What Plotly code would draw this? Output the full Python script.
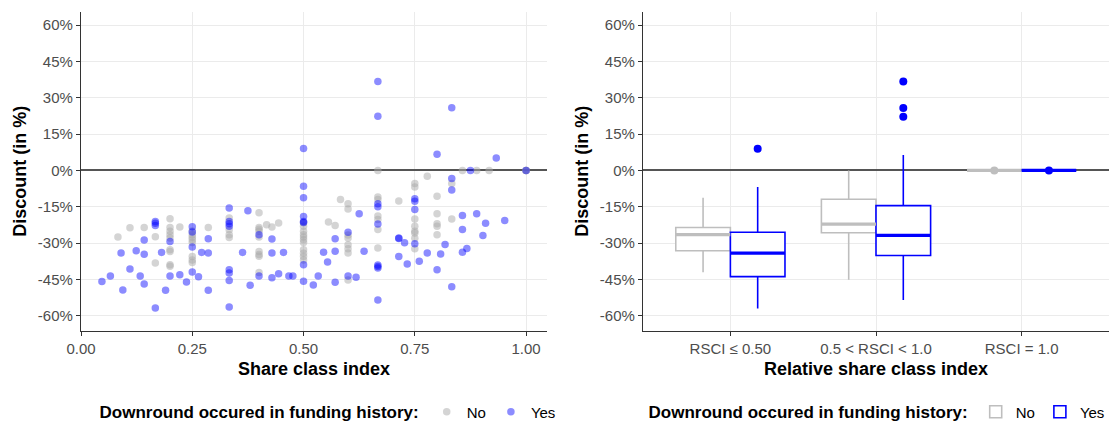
import plotly.graph_objects as go

# ---------------- data ----------------
no_x = [0.083, 0.11, 0.142, 0.167, 0.167, 0.2, 0.2, 0.2, 0.2, 0.2, 0.2, 0.2, 0.2, 0.2,
        0.222, 0.25, 0.25, 0.25, 0.25, 0.25, 0.25, 0.25, 0.25, 0.286, 0.333, 0.333, 0.333, 0.333,
        0.4, 0.4, 0.4, 0.4, 0.4, 0.4, 0.4, 0.4, 0.4, 0.417, 0.429, 0.444,
        0.5, 0.5, 0.5, 0.5, 0.5, 0.5, 0.5, 0.5, 0.5, 0.5, 0.5,
        0.556, 0.571, 0.583, 0.6, 0.6, 0.6, 0.6, 0.6, 0.6, 0.6, 0.6,
        0.667, 0.667, 0.667, 0.667, 0.667, 0.667, 0.667, 0.714,
        0.75, 0.75, 0.75, 0.75, 0.75, 0.75, 0.75, 0.75, 0.778,
        0.8, 0.8, 0.8, 0.8, 0.8, 0.833, 0.833, 0.857, 0.889, 0.917, 1.0, 1.0, 1.0]
no_y = [-27.4, -23.6, -23.5, -27.3, -38.2, -19.9, -23.5, -25.1, -26.5, -27.9, -32.7, -33.4, -38.9, -39.5,
        -23.3, -25.0, -26.5, -27.5, -28.6, -29.7, -35.5, -36.9, -38.0, -23.5, -19.6, -24.5, -26.5, -27.7,
        -17.4, -23.5, -24.2, -25.1, -27.4, -33.4, -34.7, -35.4, -42.1, -22.4, -23.3, -21.7,
        -21.6, -23.0, -25.1, -26.5, -27.4, -28.6, -29.7, -32.7, -34.1, -35.5, -36.9,
        -21.3, -22.7, -12.0, -13.7, -15.9, -26.6, -27.9, -30.6, -32.3, -34.0, -45.2,
        0.0, -10.9, -12.0, -18.8, -20.2, -24.4, -32.0, -12.6,
        -5.4, -6.8, -20.0, -23.0, -25.1, -25.8, -28.0, -32.3, -2.4,
        -10.6, -17.9, -22.0, -23.0, -26.5, -5.4, -20.0, 0.0, 0.0, 0.0, 0.0, 0.0, 0.0]

yes_x = [0.047, 0.066, 0.09, 0.094, 0.11, 0.124, 0.133, 0.142, 0.142, 0.142,
         0.167, 0.167, 0.167, 0.167, 0.181, 0.19, 0.2, 0.2, 0.222, 0.237,
         0.25, 0.25, 0.25, 0.25, 0.264, 0.271, 0.286, 0.286, 0.286,
         0.333, 0.333, 0.333, 0.333, 0.333, 0.333, 0.333, 0.333,
         0.363, 0.375, 0.38, 0.4, 0.4, 0.429, 0.429, 0.429, 0.444, 0.455, 0.467, 0.476,
         0.5, 0.5, 0.5, 0.5, 0.5, 0.5, 0.5, 0.5,
         0.522, 0.533, 0.545, 0.554, 0.571, 0.571, 0.571, 0.6, 0.6, 0.618, 0.625, 0.636,
         0.667, 0.667, 0.667, 0.667, 0.667, 0.667, 0.667, 0.667, 0.667,
         0.714, 0.714, 0.714, 0.727, 0.733, 0.75, 0.75, 0.75, 0.75, 0.76, 0.778,
         0.8, 0.8, 0.808, 0.818, 0.833, 0.833, 0.833, 0.833,
         0.857, 0.857, 0.857, 0.867, 0.875, 0.889, 0.903, 0.909, 0.933, 0.952, 1.0]
yes_y = [-45.8, -43.5, -34.0, -49.3, -40.6, -33.1, -43.5, -28.7, -34.6, -46.8,
         -21.0, -21.8, -22.7, -56.7, -33.8, -49.4, -29.3, -43.5, -43.0, -46.0,
         -23.2, -25.4, -31.6, -41.9, -43.8, -33.8, -28.2, -34.0, -49.4,
         -15.5, -21.0, -22.0, -23.0, -41.0, -42.3, -45.4, -56.3,
         -33.8, -16.6, -47.4, -26.5, -43.5, -28.3, -34.0, -44.3, -42.6, -33.8, -43.5, -43.5,
         9.1, -6.5, -11.3, -19.0, -21.0, -21.5, -38.9, -45.7,
         -47.2, -43.5, -33.7, -37.8, -28.2, -33.3, -46.1, -25.5, -43.5, -44.0, -17.9, -33.3,
         36.7, 22.4, -13.7, -15.0, -22.1, -39.0, -39.6, -40.2, -53.4,
         -27.9, -28.1, -35.5, -29.8, -38.6, -11.7, -12.7, -16.1, -30.2, -37.5, -34.0,
         6.7, -41.0, -34.5, -30.5, 25.9, -3.3, -8.1, -48.0,
         -18.6, -24.4, -33.7, -32.2, 0.0, -17.9, -26.8, -21.8, 5.1, -20.6, 0.0]

categories = ["RSCI ≤ 0.50", "0.5 < RSCI < 1.0", "RSCI = 1.0"]

no_q1 = [-33.1, -25.7, 0.0]
no_med = [-26.5, -22.1, 0.0]
no_q3 = [-23.5, -11.9, 0.0]
no_lo = [-42.0, -45.1, 0.0]
no_hi = [-11.3, 0.0, 0.0]
no_out_cat = [3]
no_out_y = [0.0]

yes_q1 = [-43.8, -35.1, 0.0]
yes_med = [-34.1, -26.8, 0.0]
yes_q3 = [-25.5, -14.5, 0.0]
yes_lo = [-56.9, -53.4, 0.0]
yes_hi = [-6.8, 6.4, 0.0]
yes_out_cat = [1, 2, 2, 2, 3]
yes_out_y = [9.0, 36.7, 25.8, 22.2, 0.0]

y_ticks = [-60, -45, -30, -15, 0, 15, 30, 45, 60]
x_ticks = [0.0, 0.25, 0.5, 0.75, 1.0]
x_ticklabels = ["0.00", "0.25", "0.50", "0.75", "1.00"]

# ---------------- style ----------------
FONT = "Liberation Sans, Arial, Helvetica, sans-serif"
GRAY = "#bebebe"
BLUE = "#0000ff"
TICKC = "#4d4d4d"
AXC = "#333333"
W = 1113
H = 421

box_w = 0.375
off = box_w / 2
cat_pos = [i + 1 for i in range(len(categories))]
no_pos = [p - off for p in cat_pos]
yes_pos = [p + off for p in cat_pos]

fig = go.Figure()

# left scatter
fig.add_trace(go.Scatter(
    x=no_x, y=no_y, mode="markers", name="No",
    marker=dict(color="rgba(170,170,170,0.5)", size=7.5, line=dict(width=0)),
    xaxis="x", yaxis="y", legend="legend"))
fig.add_trace(go.Scatter(
    x=yes_x, y=yes_y, mode="markers", name="Yes",
    marker=dict(color="rgba(0,0,255,0.45)", size=7.5, line=dict(width=0)),
    xaxis="x", yaxis="y", legend="legend"))

# right boxplots
fig.add_trace(go.Box(
    x=no_pos, q1=no_q1, median=no_med, q3=no_q3, lowerfence=no_lo, upperfence=no_hi,
    width=box_w, whiskerwidth=0, boxpoints=False, fillcolor="white",
    line=dict(color=GRAY, width=1.6), name="No", orientation="v",
    xaxis="x2", yaxis="y2", legend="legend2"))
fig.add_trace(go.Box(
    x=yes_pos, q1=yes_q1, median=yes_med, q3=yes_q3, lowerfence=yes_lo, upperfence=yes_hi,
    width=box_w, whiskerwidth=0, boxpoints=False, fillcolor="white",
    line=dict(color=BLUE, width=1.6), name="Yes", orientation="v",
    xaxis="x2", yaxis="y2", legend="legend2"))


def med_lines(pos, med):
    xs, ys = [], []
    for p, m in zip(pos, med):
        xs += [p - off, p + off, None]
        ys += [m, m, None]
    return xs, ys


for pos, med, col in [(no_pos, no_med, GRAY), (yes_pos, yes_med, BLUE)]:
    mx, my = med_lines(pos, med)
    fig.add_trace(go.Scatter(x=mx, y=my, mode="lines", line=dict(color=col, width=3.2),
                             showlegend=False, hoverinfo="skip", xaxis="x2", yaxis="y2"))

fig.add_trace(go.Scatter(
    x=[c - off for c in no_out_cat], y=no_out_y, mode="markers",
    marker=dict(color=GRAY, size=8), showlegend=False, xaxis="x2", yaxis="y2"))
fig.add_trace(go.Scatter(
    x=[c + off for c in yes_out_cat], y=yes_out_y, mode="markers",
    marker=dict(color=BLUE, size=8), showlegend=False, xaxis="x2", yaxis="y2"))

# ---------------- layout ----------------
ydom = [(H - 330.7) / H, (H - 11.7) / H]
y_ticktext = [f"{v}%" for v in y_ticks]

common_y = dict(
    range=[-66.1, 65.5], tickvals=y_ticks, ticktext=y_ticktext,
    showgrid=True, gridcolor="#ebebeb", gridwidth=1,
    zeroline=True, zerolinecolor="#555555", zerolinewidth=1.6,
    showline=True, linecolor=AXC, linewidth=1.3,
    ticks="outside", ticklen=4, tickcolor=AXC, tickwidth=1.1,
    tickfont=dict(family=FONT, size=15, color=TICKC),
    title=dict(text="<b>Discount (in %)</b>", font=dict(family=FONT, size=18, color="black"), standoff=6),
    domain=ydom, automargin=False, fixedrange=True)

fig.update_layout(
    width=W, height=H, autosize=False,
    margin=dict(l=0, r=0, t=0, b=0, autoexpand=False),
    paper_bgcolor="white", plot_bgcolor="white",
    font=dict(family=FONT, color="black"),
    xaxis=dict(
        domain=[81 / W, 547 / W], range=[0, 1.047],
        tickvals=x_ticks, ticktext=x_ticklabels,
        showgrid=True, gridcolor="#ebebeb", gridwidth=1, zeroline=False,
        showline=True, linecolor=AXC, linewidth=1.3,
        ticks="outside", ticklen=4, tickcolor=AXC, tickwidth=1.1,
        tickfont=dict(family=FONT, size=15, color=TICKC),
        title=dict(text="<b>Share class index</b>", font=dict(family=FONT, size=18, color="black"), standoff=6),
        anchor="y", automargin=False),
    yaxis=dict(anchor="x", **common_y),
    xaxis2=dict(
        domain=[643 / W, 1109 / W], range=[0.4, 3.6],
        tickvals=cat_pos, ticktext=categories,
        showgrid=True, gridcolor="#ebebeb", gridwidth=1, zeroline=False,
        showline=True, linecolor=AXC, linewidth=1.3,
        ticks="outside", ticklen=4, tickcolor=AXC, tickwidth=1.1,
        tickfont=dict(family=FONT, size=15, color=TICKC),
        title=dict(text="<b>Relative share class index</b>", font=dict(family=FONT, size=18, color="black"), standoff=6),
        anchor="y2", automargin=False),
    yaxis2=dict(anchor="x2", **common_y),
    legend=dict(
        orientation="h", x=329 / W, xanchor="center", y=9 / H, yanchor="middle",
        title=dict(text="<b>Downround occured in funding history:</b>", side="left",
                   font=dict(family=FONT, size=17, color="black")),
        font=dict(family=FONT, size=15, color="black"),
        itemwidth=30, tracegroupgap=0, bgcolor="rgba(0,0,0,0)"),
    legend2=dict(
        orientation="h", x=878 / W, xanchor="center", y=9 / H, yanchor="middle",
        title=dict(text="<b>Downround occured in funding history:</b>", side="left",
                   font=dict(family=FONT, size=17, color="black")),
        font=dict(family=FONT, size=15, color="black"),
        itemwidth=30, tracegroupgap=0, bgcolor="rgba(0,0,0,0)"),
    showlegend=True,
)

page_fix = (
    "document.documentElement.style.margin='0';"
    "document.documentElement.style.overflow='hidden';"
    "document.body.style.margin='0';"
    "document.body.style.overflow='hidden';"
)

fig.write_html("out.html", config={"responsive": False, "displayModeBar": False},
               post_script=page_fix)
